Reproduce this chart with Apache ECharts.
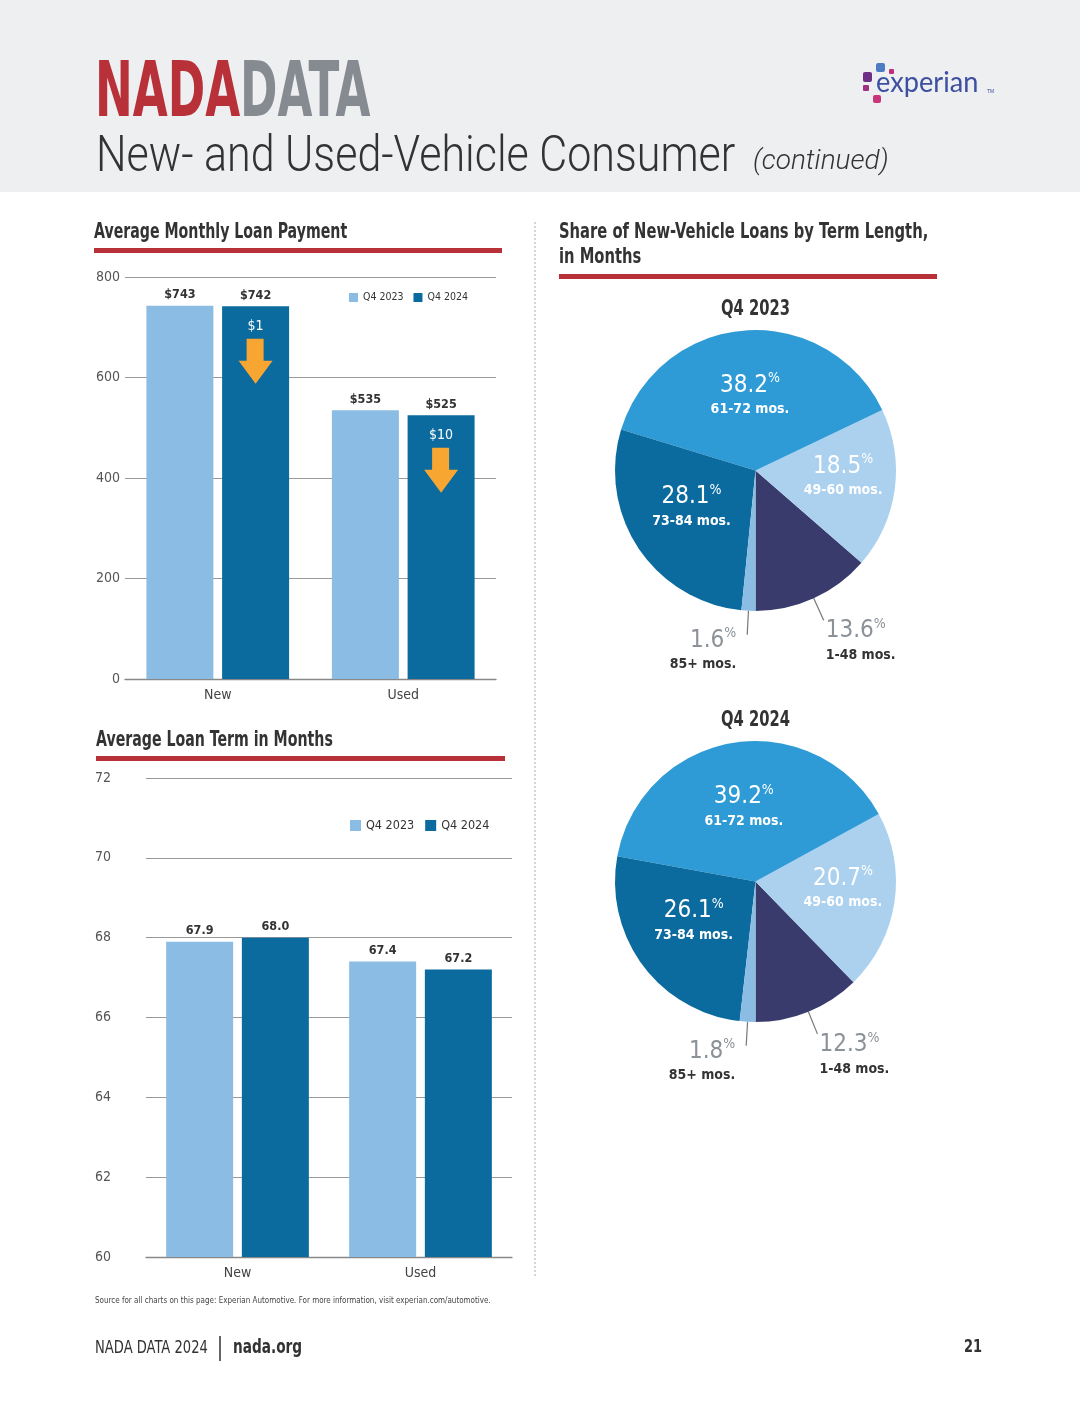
<!DOCTYPE html>
<html>
<head>
<meta charset="utf-8">
<script src="https://cdn.jsdelivr.net/npm/echarts@6/dist/echarts.min.js"></script>
<style>
  html, body { margin: 0; padding: 0; background: #fff; }
  #page { width: 1080px; height: 1407px; }
</style>
</head>
<body>
<div id="page"></div>
<script>
// 数据
const categories = ['New', 'Used'];
const seriesNames = ['Q4 2023', 'Q4 2024'];
const paymentQ42023 = [743, 535];
const paymentQ42024 = [742, 525];
const paymentDrop = [1, 10];
const paymentTicks = [0, 800, 200];   // min, max, interval
const termQ42023 = [67.9, 67.4];
const termQ42024 = [68.0, 67.2];
const termTicks = [60, 72, 2];
const termNames = ['1-48 mos.', '49-60 mos.', '61-72 mos.', '73-84 mos.', '85+ mos.'];
const share2023 = [13.6, 18.5, 38.2, 28.1, 1.6];
const share2024 = [12.3, 20.7, 39.2, 26.1, 1.8];

// 样式
const narrow = '"Liberation Sans Narrow", "DejaVu Sans Condensed", sans-serif';
const light = '#8bbde4';
const dark = '#0b6a9e';
const red = '#b83139';
const sliceColors = ['#383b6c', '#abd1ef', '#2f9bd6', '#0b6a9e', '#8bbde4'];
// 外部标签：上边距（把文字推到引导线下方）
const outsidePad = { '1-48 mos.': [42, 0, 0, 0], '85+ mos.': [32, 9, 0, 0] };
// 内部标签微调
const insideNudge = { '49-60 mos.': [15, -4], '61-72 mos.': [0, -2], '73-84 mos.': [-3, -4] };
const pieCenters = [[755.5, 470.5], [755.5, 881.5]];

let myChart = echarts.init(document.getElementById('page'), null, { renderer: 'canvas' });

function barSeries(name, data, color, gridIndex, fmt) {
    return {
        name: name,
        type: 'bar',
        xAxisIndex: gridIndex,
        yAxisIndex: gridIndex,
        data: data,
        barWidth: 67,
        barGap: '13%',
        itemStyle: { color: color },
        label: {
            show: true,
            position: 'top',
            distance: 4,
            color: '#333',
            fontFamily: narrow,
            fontWeight: 'bold',
            fontSize: 12.5,
            formatter: fmt
        }
    };
}

function pieSeries(values, idx) {
    return {
        type: 'pie',
        center: pieCenters[idx],
        radius: 140.5,
        startAngle: 270,
        clockwise: false,
        avoidLabelOverlap: false,
        itemStyle: { borderWidth: 0 },
        data: termNames.map(function (n, i) {
            let outside = !!outsidePad[n];
            return {
                name: n,
                value: values[i],
                itemStyle: { color: sliceColors[i] },
                label: outside ? {
                    position: 'outside',
                    distanceToLabelLine: 2,
                    padding: outsidePad[n],
                    formatter: '{o|{c}}{q|%}\n{m|{b}}'
                } : {
                    position: 'inside',
                    formatter: '{v|{c}}{p|%}\n{n|{b}}'
                },
                labelLine: { show: outside, length: 24, length2: 0, lineStyle: { color: '#777', width: 1.2 } }
            };
        }),
        label: {
            fontFamily: narrow,
            rich: {
                v: { fontFamily: narrow, fontSize: 24, color: '#fff', lineHeight: 28 },
                p: { fontFamily: narrow, fontSize: 14, color: '#fff', verticalAlign: 'top', lineHeight: 28, padding: [0, 0, 8, 0] },
                n: { fontFamily: narrow, fontSize: 14, fontWeight: 'bold', color: '#fff', lineHeight: 20 },
                o: { fontFamily: narrow, fontSize: 24, color: '#8b9197', lineHeight: 28 },
                q: { fontFamily: narrow, fontSize: 14, color: '#8b9197', verticalAlign: 'top', lineHeight: 28, padding: [0, 0, 8, 0] },
                m: { fontFamily: narrow, fontSize: 14, fontWeight: 'bold', color: '#333', lineHeight: 20 }
            }
        },
        labelLayout: function (params) {
            let nudge = insideNudge[termNames[params.dataIndex]];
            if (!nudge) return {};
            return { dx: nudge[0], dy: nudge[1] };
        }
    };
}

function axisPair(gridIndex, ticks, labelMargin) {
    return {
        x: {
            type: 'category',
            gridIndex: gridIndex,
            data: categories,
            axisTick: { show: false },
            axisLine: { lineStyle: { color: '#888', width: 1.3 } },
            axisLabel: { color: '#444', fontFamily: narrow, fontSize: 14, margin: 9 }
        },
        y: {
            type: 'value',
            gridIndex: gridIndex,
            min: ticks[0],
            max: ticks[1],
            interval: ticks[2],
            axisLine: { show: false },
            axisTick: { show: false },
            splitLine: { lineStyle: { color: '#999', width: 1.2 } },
            axisLabel: { color: '#555', fontFamily: narrow, fontSize: 14, margin: labelMargin }
        }
    };
}

let a1 = axisPair(0, paymentTicks, 5);
let a2 = axisPair(1, termTicks, 35);

// 图形文字（可横向压缩）
function txt(x, y, str, font, color, sx, align) {
    return {
        type: 'text', x: x, y: y, scaleX: sx || 1,
        style: { text: str, fill: color, font: font, align: align || 'left', verticalAlign: 'middle' }
    };
}

let option = {
    animation: false,
    backgroundColor: '#fff',
    grid: [
        { left: 125, top: 277, width: 371, height: 402 },
        { left: 146, top: 778, width: 366, height: 479 }
    ],
    xAxis: [a1.x, a2.x],
    yAxis: [a1.y, a2.y],
    legend: [
        {
            data: seriesNames, left: 349, top: 292, padding: 0, itemWidth: 9, itemHeight: 9, itemGap: 10,
            icon: 'rect', selectedMode: false,
            textStyle: { fontFamily: narrow, fontSize: 10.5, color: '#333' }
        },
        {
            data: seriesNames, left: 350, top: 819, padding: 0, itemWidth: 11, itemHeight: 11, itemGap: 11,
            icon: 'rect', selectedMode: false,
            textStyle: { fontFamily: narrow, fontSize: 12.5, color: '#333' }
        }
    ],
    series: [
        barSeries(seriesNames[0], paymentQ42023, light, 0, '${c}'),
        Object.assign(barSeries(seriesNames[1], paymentQ42024, dark, 0, '${c}'), {
            markPoint: {
                symbol: 'path://M8,0 L25,0 L25,22 L34,22 L17,45 L0,22 L8,22 Z',
                symbolSize: [34, 45],
                symbolOffset: [0, 55],
                itemStyle: { color: '#f7a631' },
                label: {
                    show: true, position: 'top', distance: 5,
                    color: '#fff', fontFamily: narrow, fontSize: 14,
                    formatter: '${c}'
                },
                data: categories.map(function (c, i) {
                    return { coord: [c, paymentQ42024[i]], value: paymentDrop[i] };
                })
            }
        }),
        barSeries(seriesNames[0], termQ42023, light, 1, function (p) { return p.value.toFixed(1); }),
        barSeries(seriesNames[1], termQ42024, dark, 1, function (p) { return p.value.toFixed(1); }),
        pieSeries(share2023, 0),
        pieSeries(share2024, 1)
    ],
    graphic: [
        // 页眉
        { type: 'rect', left: 0, top: 0, shape: { width: 1080, height: 192 }, style: { fill: '#eeeff1' }, z: -10 },
        txt(95, 96, 'NADA', 'bold 76px ' + narrow, red, 0.66),
        txt(240, 96, 'DATA', 'bold 76px ' + narrow, '#868b91', 0.66),
        txt(96, 158, 'New- and Used-Vehicle Consumer', '300 50px Roboto, sans-serif', '#333', 0.86),
        txt(753, 162, '(continued)', 'italic 300 28px Roboto, sans-serif', '#333', 1.0),
        // experian
        { type: 'rect', x: 876, y: 63, shape: { width: 9, height: 9, r: 2 }, style: { fill: '#4e7cc4' } },
        { type: 'rect', x: 889, y: 69, shape: { width: 5, height: 5, r: 1 }, style: { fill: '#c0307a' } },
        { type: 'rect', x: 863, y: 72, shape: { width: 9, height: 10, r: 2 }, style: { fill: '#6e2f86' } },
        { type: 'rect', x: 863, y: 85, shape: { width: 6, height: 6, r: 1 }, style: { fill: '#a03080' } },
        { type: 'rect', x: 873, y: 95, shape: { width: 8, height: 8, r: 2 }, style: { fill: '#c8357a' } },
        txt(876, 83, 'experian', '28px Lato, Roboto, sans-serif', '#3d4fa0', 0.97),
        txt(987, 92, 'TM', '5px sans-serif', '#3d4fa0'),
        // 左侧标题
        txt(94, 233, 'Average Monthly Loan Payment', 'bold 21px ' + narrow, '#333', 0.75),
        { type: 'rect', x: 94, y: 248, shape: { width: 408, height: 5 }, style: { fill: red } },
        txt(96, 741, 'Average Loan Term in Months', 'bold 21px ' + narrow, '#333', 0.75),
        { type: 'rect', x: 96, y: 756, shape: { width: 409, height: 5 }, style: { fill: red } },
        // 分隔线
        { type: 'line', shape: { x1: 535, y1: 222, x2: 535, y2: 1278 }, style: { stroke: '#aaa', lineWidth: 1, lineDash: [2, 2] } },
        // 右侧标题
        txt(559, 233, 'Share of New-Vehicle Loans by Term Length,', 'bold 21px ' + narrow, '#333', 0.78),
        txt(559, 258, 'in Months', 'bold 21px ' + narrow, '#333', 0.78),
        { type: 'rect', x: 559, y: 274, shape: { width: 378, height: 5 }, style: { fill: red } },
        txt(755.5, 310, 'Q4 2023', 'bold 21px ' + narrow, '#333', 0.78, 'center'),
        txt(755.5, 721, 'Q4 2024', 'bold 21px ' + narrow, '#333', 0.78, 'center'),
        // 页脚
        txt(95, 1301, 'Source for all charts on this page: Experian Automotive. For more information, visit experian.com/automotive.', '9.5px ' + narrow, '#444', 0.84),
        txt(95, 1348, 'NADA DATA 2024', '18px ' + narrow, '#333', 0.81),
        { type: 'line', shape: { x1: 220, y1: 1336, x2: 220, y2: 1361 }, style: { stroke: '#333', lineWidth: 1.5 } },
        txt(233, 1348, 'nada.org', 'bold 19px ' + narrow, '#333', 0.8),
        txt(982, 1348, '21', 'bold 17px ' + narrow, '#333', 0.85, 'right')
    ]
};
myChart.setOption(option);
</script>
</body>
</html>
